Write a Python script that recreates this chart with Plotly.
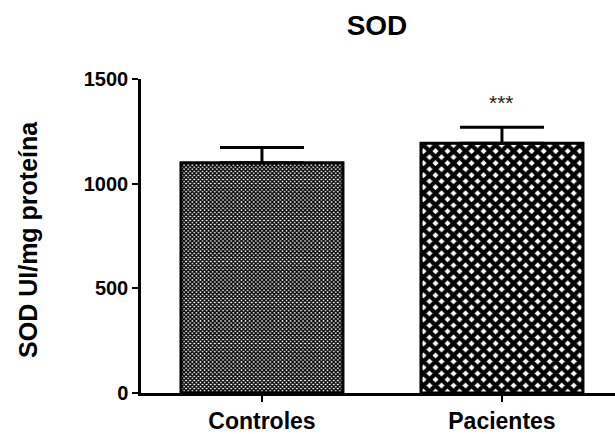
import plotly.graph_objects as go

categories = ["Controles", "Pacientes"]
means = [1100, 1193]
sem = [73, 77]
significance = ["", "***"]
y_ticks = [0, 500, 1000, 1500]
y_tick_labels = ["0", "500", "1000", "1500"]
title_text = "SOD"
y_title = "SOD UI/mg proteína"

FONT = "Liberation Sans, Arial, sans-serif"

fig = go.Figure()
fig.add_trace(go.Bar(
    x=categories,
    y=means,
    width=0.675,
    marker=dict(
        color="white",
        line=dict(color="black", width=3),
        pattern=dict(shape=["x", "x"], size=[2.9, 8.5], solidity=[0.7, 0.75],
                     fgcolor="black", bgcolor="white", fillmode="replace"),
    ),
    error_y=dict(type="data", array=sem, arrayminus=[0] * len(sem), symmetric=False,
                 color="black", thickness=3, width=42),
    showlegend=False,
))

for c, m, s, sig in zip(categories, means, sem, significance):
    if sig:
        fig.add_annotation(x=c, y=m + s, text=sig, showarrow=False, yanchor="middle",
                           yshift=25, font=dict(family=FONT, size=21, color="#222"))

fig.add_annotation(xref="paper", yref="paper", x=-(141 - 28) / 474, y=0.4875,
                   text=y_title, textangle=-90, showarrow=False,
                   xanchor="center", yanchor="middle",
                   font=dict(family=FONT, size=25, color="black", weight="bold"))

fig.update_layout(
    width=615, height=434,
    margin=dict(l=141, r=0, t=79, b=35),
    paper_bgcolor="white", plot_bgcolor="white",
    title=dict(text=title_text, xref="container", yref="container",
               x=377 / 615, y=1 - 25 / 434, xanchor="center", yanchor="middle",
               font=dict(family=FONT, size=28, color="black", weight="bold")),
    xaxis=dict(type="category", range=[-0.504, 1.471], showline=True, linecolor="black",
               linewidth=2.5, ticks="outside", ticklen=6, tickwidth=2, tickcolor="black",
               showgrid=False, zeroline=False,
               tickfont=dict(family=FONT, size=23, color="black", weight="bold")),
    yaxis=dict(range=[0, 1500], tickvals=y_ticks, ticktext=y_tick_labels, showline=True,
               linecolor="black", linewidth=2.5, ticks="outside", ticklen=6, tickwidth=2,
               tickcolor="black", showgrid=False, zeroline=False,
               tickfont=dict(family=FONT, size=20, color="black", weight="bold")),
)

fig.write_html("out.html")
